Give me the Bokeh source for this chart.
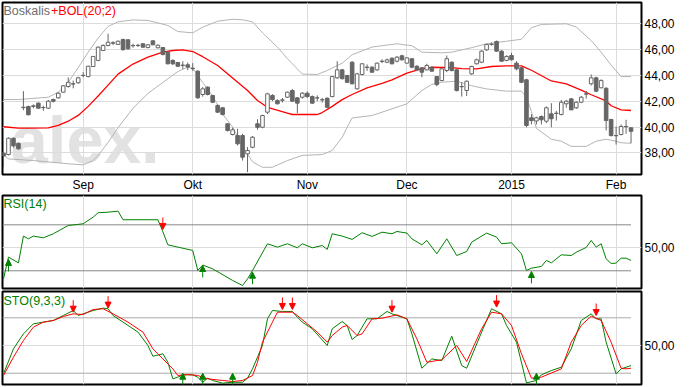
import numpy as np
from bokeh.plotting import figure
from bokeh.layouts import column
from bokeh.models import ColumnDataSource, Range1d, FixedTicker, Label, Arrow, NormalHead
from bokeh.embed import file_html
from bokeh.resources import INLINE

# ---------------- data ----------------
month_ticks = [16, 38, 61, 81, 102, 123]
month_labels = ["Sep", "Okt", "Nov", "Dec", "2015", "Feb"]
price_ticks = [38, 40, 42, 44, 46, 48]

opens = [37.97, 37.87, 39.13, 38.74, 41.50, 41.59, 41.64, 41.85, 41.51, 41.46,
         42.13, 42.26, 42.70, 43.14, 43.35, 43.43, 43.99, 43.91, 44.69, 45.16,
         45.93, 46.32, 46.53, 46.40, 46.78, 46.76, 46.32, 46.32, 46.45, 46.16,
         46.68, 46.14, 46.16, 45.80, 45.16, 45.00, 44.77, 44.82, 44.56, 44.33,
         42.52, 43.09, 42.44, 41.67, 41.49, 40.25, 39.42, 39.34, 39.34, 37.92,
         38.43, 40.25, 39.98, 41.15, 42.44, 42.05, 42.10, 42.31, 42.83, 42.26,
         42.31, 42.62, 42.36, 42.26, 42.10, 42.23, 42.36, 43.81, 44.43, 43.99,
         45.02, 42.96, 44.07, 44.64, 44.64, 44.43, 45.10, 45.02, 45.33, 45.10,
         45.52, 44.95, 45.29, 44.71, 44.59, 44.43, 44.64, 43.91, 43.60, 44.38,
         45.02, 44.43, 43.14, 42.83, 44.12, 44.90, 45.02, 45.98, 46.40, 46.63,
         45.88, 45.16, 45.54, 44.95, 44.59, 43.66, 40.71, 40.47, 40.81, 40.45,
         41.02, 41.07, 40.97, 41.80, 42.18, 41.49, 41.92, 42.57, 43.35, 43.81,
         43.04, 43.00, 40.58, 39.34, 39.42, 40.04, 39.94]
highs = [38.10, 39.20, 39.20, 38.80, 42.78, 41.65, 41.75, 41.90, 41.65, 42.10,
         42.20, 42.70, 43.25, 43.85, 43.60, 43.90, 44.25, 44.75, 45.50, 46.25,
         46.40, 47.23, 46.65, 46.70, 46.85, 46.80, 46.45, 46.45, 46.50, 46.42,
         46.70, 46.40, 46.20, 45.85, 45.25, 45.05, 45.10, 45.00, 44.95, 44.40,
         43.10, 43.15, 42.50, 41.75, 41.55, 40.30, 39.95, 39.86, 39.47, 38.45,
         39.30, 40.60, 40.95, 42.65, 42.55, 42.15, 42.25, 42.75, 42.95, 42.31,
         42.70, 42.75, 42.45, 42.45, 42.25, 42.30, 43.95, 45.10, 44.50, 44.05,
         45.10, 44.20, 44.95, 44.85, 44.70, 45.00, 45.25, 45.30, 45.40, 45.50,
         45.60, 45.40, 45.35, 44.80, 44.65, 44.90, 44.70, 43.95, 44.55, 45.54,
         45.10, 44.50, 43.47, 43.60, 44.75, 45.30, 45.95, 46.45, 46.55, 46.70,
         45.95, 45.55, 45.75, 45.10, 44.65, 43.74, 41.00, 40.80, 40.90, 41.60,
         41.85, 41.25, 42.10, 42.10, 42.25, 42.00, 42.40, 42.80, 44.07, 43.90,
         43.70, 43.09, 40.64, 40.04, 40.20, 40.56, 39.94]
lows = [36.90, 37.80, 38.40, 38.25, 41.30, 40.90, 41.45, 41.40, 41.25, 41.40,
        41.90, 42.20, 42.65, 43.05, 43.00, 43.35, 43.85, 43.85, 44.65, 45.10,
        45.90, 46.25, 46.35, 46.35, 45.90, 46.00, 46.15, 46.20, 46.15, 46.10,
        46.35, 46.10, 45.55, 44.85, 44.80, 44.65, 44.50, 44.40, 44.35, 42.20,
        42.35, 42.45, 41.85, 41.10, 40.90, 39.65, 39.35, 38.57, 37.40, 36.50,
        38.35, 39.80, 39.90, 41.00, 42.00, 41.75, 41.90, 42.25, 41.95, 41.07,
        42.20, 42.25, 41.80, 42.00, 41.90, 41.45, 42.30, 43.74, 43.70, 43.40,
        43.30, 42.90, 44.00, 44.35, 44.20, 44.35, 44.95, 44.95, 44.85, 45.00,
        45.15, 44.90, 44.55, 44.35, 43.86, 44.40, 44.30, 43.15, 43.55, 44.25,
        44.30, 42.75, 42.36, 42.40, 44.05, 44.85, 44.95, 45.90, 46.30, 45.85,
        45.05, 45.10, 45.15, 44.40, 43.40, 39.98, 40.20, 40.20, 40.20, 40.30,
        39.98, 40.50, 40.90, 41.50, 41.30, 41.40, 41.85, 42.20, 43.22, 42.70,
        43.00, 39.73, 39.26, 38.64, 39.35, 39.47, 38.74]
closes = [37.75, 39.13, 38.54, 38.31, 41.53, 40.95, 41.60, 41.46, 41.50, 42.00,
          42.00, 42.62, 43.19, 43.47, 43.33, 43.81, 44.00, 44.71, 45.47, 46.19,
          46.32, 46.57, 46.50, 46.65, 46.00, 46.06, 46.30, 46.33, 46.19, 46.37,
          46.37, 46.34, 45.62, 44.90, 44.90, 44.71, 44.80, 44.65, 44.52, 42.26,
          42.96, 42.52, 41.92, 41.15, 40.97, 39.73, 39.78, 38.70, 37.66, 38.18,
          39.21, 39.98, 40.89, 42.57, 42.13, 41.80, 42.08, 42.70, 42.00, 41.85,
          42.62, 42.36, 41.85, 42.25, 42.12, 41.53, 43.91, 44.43, 43.74, 43.47,
          43.35, 44.12, 44.90, 44.62, 44.25, 44.95, 45.08, 45.20, 44.90, 45.41,
          45.21, 45.36, 44.64, 44.43, 44.25, 44.77, 44.33, 43.29, 44.51, 45.29,
          44.38, 42.83, 43.12, 43.55, 44.69, 45.21, 45.88, 46.40, 46.42, 45.88,
          45.10, 45.47, 45.21, 44.51, 43.47, 40.12, 40.50, 40.71, 40.56, 41.49,
          40.64, 41.05, 41.92, 42.00, 41.33, 41.92, 42.31, 42.55, 43.81, 42.78,
          43.60, 40.50, 39.34, 39.32, 40.04, 40.02, 39.67]

# Bollinger bands (20;2)
bb_up_x = [0, 3, 9, 11, 13, 15, 17, 19, 21, 23, 26, 29, 33, 35, 38, 40, 43, 46, 48, 50,
           52, 55, 57, 60, 63, 65, 68, 70, 74, 79, 82, 84, 88, 90, 94, 97, 101, 104, 106,
           108, 113, 115, 118, 120, 122, 124, 126]
bb_up = [42.13, 42.13, 42.31, 42.70, 43.47, 44.60, 45.80, 46.90, 47.80, 48.15, 48.30, 48.26,
         47.87, 47.40, 47.30, 47.74, 48.20, 48.35, 48.31, 48.15, 47.30, 46.19, 45.30, 44.10,
         44.07, 44.38, 44.95, 45.60, 46.20, 46.45, 46.30, 45.80, 45.75, 45.80, 46.15, 46.45,
         46.65, 46.80, 47.70, 47.95, 48.00, 47.75, 46.70, 45.80, 44.80, 43.91, 43.91]
bb_mid_x = [0, 3, 5, 9, 11, 13, 15, 17, 19, 21, 23, 26, 29, 32, 34, 36, 38, 40, 43, 46, 49,
            51, 53, 57, 58, 63, 64, 66, 68, 70, 73, 76, 78, 81, 84, 86, 90, 92, 95, 98, 101,
            104, 106, 110, 113, 116, 118, 121, 122, 124, 126]
bb_mid = [40.02, 39.91, 39.91, 39.94, 40.12, 40.45, 40.90, 41.60, 42.40, 43.25, 44.10, 44.88,
          45.42, 45.80, 45.93, 45.98, 45.85, 45.45, 44.77, 43.80, 42.83, 42.05, 41.53, 41.07,
          40.97, 40.97, 41.12, 41.60, 42.12, 42.52, 43.04, 43.38, 43.65, 44.17, 44.53, 44.63,
          44.60, 44.52, 44.51, 44.69, 44.74, 44.74, 44.40, 43.57, 43.35, 42.86, 42.50, 42.02,
          41.65, 41.33, 41.28]
bb_low_x = [0, 1, 6, 13, 16, 18, 19, 21, 23, 26, 29, 33, 35, 37, 38, 40, 42, 44, 46, 48, 50,
            52, 54, 57, 60, 64, 66, 68, 69, 70, 74, 77, 81, 84, 86, 88, 91, 94, 97, 101, 104,
            105, 106, 107, 110, 112, 114, 117, 119, 121, 123, 124, 126]
bb_low = [37.87, 37.53, 37.40, 37.15, 37.07, 37.40, 37.80, 38.80, 39.95, 41.45, 42.60, 43.74,
          44.30, 44.64, 44.55, 43.45, 42.40, 41.00, 40.00, 38.50, 37.30, 36.88, 36.88, 37.40,
          37.80, 37.87, 38.18, 39.20, 39.98, 40.70, 40.89, 41.28, 41.80, 42.83, 43.30, 43.47,
          43.55, 43.20, 42.95, 42.78, 42.78, 42.30, 41.20, 39.90, 39.05, 38.90, 38.50, 38.50,
          38.90, 39.05, 38.90, 38.78, 38.74]

# RSI(14)
rsi_x = [0, 1, 3, 4, 5, 6, 8, 10, 13, 16, 18, 19, 21, 23, 24, 31, 32, 33, 35, 38, 39, 40,
         42, 46, 48, 49, 50, 53, 55, 57, 59, 60, 62, 64, 65, 66, 68, 70, 72, 74, 76, 78, 79,
         81, 82, 84, 85, 87, 89, 91, 93, 94, 97, 99, 100, 102, 104, 105, 106, 108, 109, 110,
         112, 114, 115, 117, 118, 119, 120, 121, 122, 123, 124, 125, 126]
rsi_v = [23.0, 41.9, 36.9, 60.2, 57.8, 60.2, 58.7, 62.2, 69.4, 70.9, 76.7, 80.5, 81.0, 81.9,
         74.4, 74.4, 64.0, 52.6, 50.6, 47.7, 30.3, 35.0, 31.7, 21.6, 17.2, 23.0, 30.3, 53.5,
         50.6, 53.5, 50.0, 53.5, 50.0, 52.0, 48.6, 62.2, 60.2, 57.3, 63.1, 59.9, 63.6, 62.2,
         64.2, 62.8, 57.8, 52.6, 56.4, 44.8, 57.8, 43.3, 46.8, 54.9, 62.8, 59.3, 53.5, 54.4,
         44.8, 30.3, 32.3, 33.8, 39.0, 36.9, 43.9, 43.3, 46.2, 50.3, 56.4, 50.6, 53.5, 40.4,
         36.4, 36.7, 41.0, 41.0, 39.0]
rsi_levels = [70, 30]
rsi_buy_x = [1, 40, 50, 106]
rsi_buy_v = [39.9, 34.6, 28.8, 29.4]
rsi_sell_x = [32]
rsi_sell_v = [66.0]

# STO(9,3,3)
sto_k_x = [0, 2, 4, 6, 8, 10, 12, 14, 15, 16, 18, 20, 21, 22, 24, 27, 29, 30, 32, 33, 34, 35,
           36, 38, 39, 40, 41, 42, 44, 46, 48, 49, 50, 52, 53, 54, 56, 58, 59, 60, 62, 65, 66,
           68, 69, 70, 71, 73, 75, 77, 78, 81, 82, 84, 86, 88, 90, 92, 93, 96, 98, 100, 101,
           103, 105, 107, 108, 110, 112, 114, 116, 118, 119, 120, 121, 123, 124, 126]
sto_k = [19.3, 46.4, 62.6, 73.5, 75.3, 77.1, 82.5, 87.9, 82.5, 84.3, 87.9, 90.5, 89.8, 82.5,
         75.3, 64.5, 50.0, 38.4, 41.0, 31.9, 13.9, 15.7, 18.2, 18.2, 15.7, 10.2, 14.6, 12.1,
         9.2, 10.2, 10.2, 14.6, 24.7, 50.0, 78.9, 87.9, 86.9, 86.9, 80.7, 75.3, 68.1, 50.0,
         68.1, 76.0, 71.7, 56.5, 60.8, 78.9, 78.9, 86.9, 84.3, 78.9, 62.6, 25.4, 35.5, 33.7,
         60.1, 28.3, 25.4, 64.5, 89.8, 84.3, 71.7, 53.6, 9.5, 12.1, 18.2, 22.9, 26.5, 46.4,
         77.1, 84.3, 78.9, 78.9, 53.6, 19.3, 24.7, 28.3]
sto_d_x = [0, 2, 4, 6, 8, 10, 12, 14, 16, 18, 20, 22, 25, 28, 30, 31, 32, 34, 35, 37, 39, 41,
           44, 46, 48, 50, 51, 52, 54, 55, 58, 59, 61, 63, 65, 66, 68, 69, 71, 72, 74, 76, 79,
           81, 83, 85, 88, 91, 93, 96, 98, 100, 102, 104, 106, 108, 112, 114, 116, 118, 120,
           122, 124, 125, 126]
sto_d = [17.5, 37.4, 55.4, 69.9, 75.3, 77.1, 81.4, 84.3, 83.6, 89.0, 89.8, 84.3, 75.3, 64.5,
         46.4, 41.0, 35.5, 24.7, 17.5, 18.6, 17.5, 13.9, 12.1, 11.0, 12.1, 17.5, 31.9, 53.6,
         75.3, 86.1, 86.1, 82.5, 73.5, 64.5, 53.6, 60.8, 69.9, 71.7, 60.8, 62.6, 78.9, 79.6,
         83.2, 78.9, 57.2, 31.9, 34.5, 50.0, 32.7, 68.1, 86.1, 84.3, 71.7, 41.0, 14.6, 15.7,
         24.7, 53.6, 71.7, 81.8, 77.1, 53.6, 25.4, 24.7, 25.4]
sto_levels = [80, 20]
sto_buy_x = [36, 40, 46, 107]
sto_buy_v = [20.0, 20.0, 20.0, 20.0]
sto_sell_x = [14, 21, 56, 58, 78, 99, 119]
sto_sell_v = [86.1, 90.5, 89.0, 89.0, 86.1, 91.6, 82.5]

# ---------------- styling / layout ----------------
FONT = "Liberation Sans"
GRID = "#dcdcdc"
GREEN = "#008000"
RED = "#ff0000"
CANDLE = "#666666"
X0, X1 = -0.2, 128.1
PXW = 639.0 / (X1 - X0)


def px2x(px):
    return X0 + (px - 2) / PXW


def style(p):
    p.outline_line_color = "black"
    p.outline_line_width = 2
    p.background_fill_color = "white"
    p.border_fill_color = "white"
    for ax in p.yaxis:
        ax.axis_line_color = None
        ax.major_tick_line_color = None
        ax.minor_tick_line_color = None
        ax.major_tick_out = 0
        ax.major_tick_in = 0
        ax.major_label_standoff = 3
        ax.major_label_text_font = FONT
        ax.major_label_text_font_size = "12px"
        ax.major_label_text_color = "black"
    p.xgrid.grid_line_color = GRID
    p.ygrid.grid_line_color = GRID
    p.xgrid.ticker = FixedTicker(ticks=month_ticks)


x_range = Range1d(X0, X1)

# ---- main price panel ----
Y0, Y1 = 36.32, 49.65
p1 = figure(width=690, height=194, x_range=x_range, y_range=Range1d(Y0, Y1),
            y_axis_location="right", output_backend="svg", toolbar_location=None,
            min_border_left=2, min_border_right=49, min_border_top=2, min_border_bottom=20)
style(p1)
p1.yaxis.ticker = FixedTicker(ticks=price_ticks)
p1.yaxis.major_label_overrides = {t: f"{t},00" for t in price_ticks}
p1.xaxis.ticker = FixedTicker(ticks=month_ticks)
p1.xaxis.major_label_overrides = dict(zip(month_ticks, month_labels))
p1.xaxis.axis_line_color = None
p1.xaxis.major_tick_line_color = None
p1.xaxis.minor_tick_line_color = None
p1.xaxis.major_tick_out = 0
p1.xaxis.major_tick_in = 0
p1.xaxis.major_label_standoff = 3
p1.xaxis.major_label_text_font = FONT
p1.xaxis.major_label_text_font_size = "12px"
p1.xaxis.major_label_text_color = "black"

S1 = 172.0 / (Y1 - Y0)


def py1(py):
    return Y1 - (py - 2) / S1


p1.add_layout(Label(x=px2x(10), y=py1(139), text="alex.", text_font=FONT,
                    text_font_style="bold", text_font_size="67px", text_color="#e2e2e2",
                    text_baseline="middle", level="image"))

p1.line(bb_up_x, bb_up, line_color="#b4b4b4", line_width=1)
p1.line(bb_low_x, bb_low, line_color="#b4b4b4", line_width=1)
p1.line(bb_mid_x, bb_mid, line_color=RED, line_width=1.3)

o = np.array(opens)
c = np.array(closes)
src = ColumnDataSource(dict(
    x=np.arange(len(opens)), h=highs, l=lows,
    top=np.maximum(o, c), bottom=np.minimum(o, c),
    fill=np.where(c > o, "white", CANDLE),
))
p1.segment(x0="x", y0="h", x1="x", y1="l", line_color=CANDLE, line_width=1, source=src)
p1.vbar(x="x", width=0.72, top="top", bottom="bottom", fill_color="fill",
        line_color=CANDLE, line_width=1, source=src)

p1.add_layout(Label(x=px2x(3), y=py1(10), text="Boskalis", text_font=FONT,
                    text_font_size="12.5px", text_color="#6e6e6e", text_baseline="middle"))
p1.add_layout(Label(x=px2x(50.5), y=py1(10), text="+BOL(20;2)", text_font=FONT,
                    text_font_size="12.5px", text_color=RED, text_baseline="middle"))


def arrows(p, xs, vs, length, up, color):
    tails = [v - length if up else v + length for v in vs]
    s = ColumnDataSource(dict(x=xs, tip=vs, tail=tails))
    p.add_layout(Arrow(end=NormalHead(size=6, fill_color=color, line_color=color),
                       x_start="x", y_start="tail", x_end="x", y_end="tip",
                       line_color=color, line_width=1, source=s))


n_last = len(opens) - 1

# ---- RSI panel ----
R0, R1 = 14.6, 95.5
p2 = figure(width=690, height=96, x_range=x_range, y_range=Range1d(R0, R1),
            x_axis_location=None, y_axis_location="right", output_backend="svg",
            toolbar_location=None, min_border_left=2, min_border_right=49,
            min_border_top=1, min_border_bottom=2)
style(p2)
p2.yaxis.ticker = FixedTicker(ticks=[50])
p2.yaxis.major_label_overrides = {50: "50,00"}
for lv in rsi_levels:
    p2.line([X0, n_last], [lv, lv], line_color="#888888", line_width=1)
p2.line(rsi_x, rsi_v, line_color=GREEN, line_width=1)
arrows(p2, rsi_buy_x, rsi_buy_v, 10.4, True, GREEN)
arrows(p2, rsi_sell_x, rsi_sell_v, 10.4, False, RED)
SR = 93.0 / (R1 - R0)
p2.add_layout(Label(x=px2x(3), y=R1 - (203 - 195) / SR, text="RSI(14)", text_font=FONT,
                    text_font_size="12.5px", text_color=GREEN, text_baseline="middle"))

# ---- STO panel ----
T0, T1 = 7.76, 108.5
p3 = figure(width=690, height=97, x_range=x_range, y_range=Range1d(T0, T1),
            x_axis_location=None, y_axis_location="right", output_backend="svg",
            toolbar_location=None, min_border_left=2, min_border_right=49,
            min_border_top=1, min_border_bottom=3)
style(p3)
p3.yaxis.ticker = FixedTicker(ticks=[50])
p3.yaxis.major_label_overrides = {50: "50,00"}
for lv in sto_levels:
    p3.line([X0, n_last], [lv, lv], line_color="#aaaaaa", line_width=1)
p3.line(sto_k_x, sto_k, line_color=GREEN, line_width=1)
p3.line(sto_d_x, sto_d, line_color=RED, line_width=1)
arrows(p3, sto_buy_x, sto_buy_v, 13, True, GREEN)
arrows(p3, sto_sell_x, sto_sell_v, 13, False, RED)
ST = 93.0 / (T1 - T0)
p3.add_layout(Label(x=px2x(3), y=T1 - (300 - 291) / ST, text="STO(9,3,3)", text_font=FONT,
                    text_font_size="12.5px", text_color=GREEN, text_baseline="middle"))

layout = column(p1, p2, p3, spacing=0)
open("out.html", "w").write(file_html(layout, INLINE))
